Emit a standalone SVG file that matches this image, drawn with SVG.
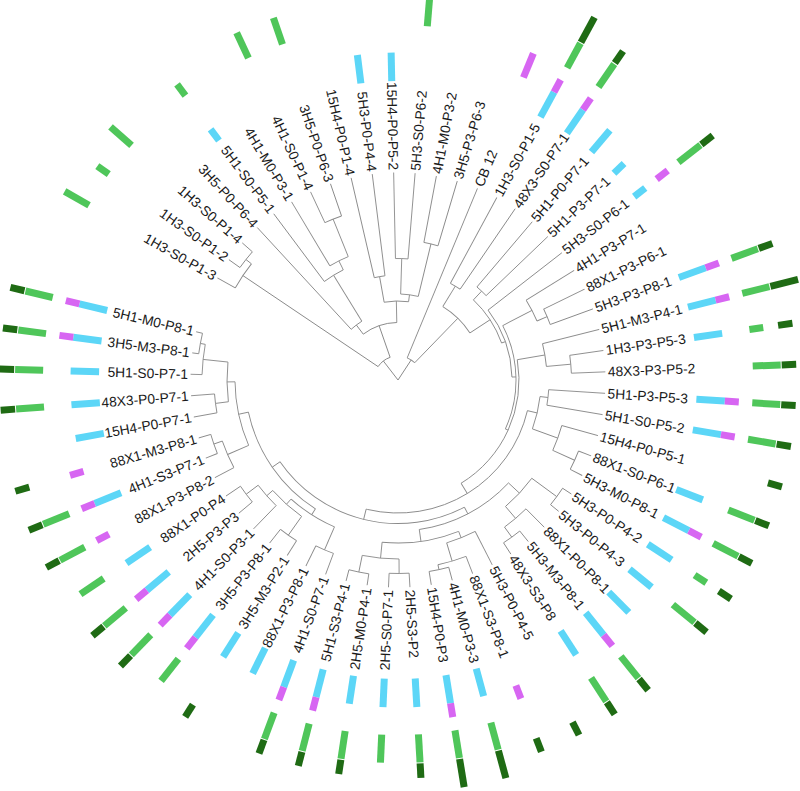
<svg xmlns="http://www.w3.org/2000/svg" width="800" height="791" viewBox="0 0 800 791">
<style>
.t{font-family:"Liberation Sans",Arial,sans-serif;font-size:13.8px;fill:#1a1a1a}
.e{text-anchor:end}
#connectors line,#connectors circle{stroke:#8a8a8a;stroke-width:0.9;fill:none}
.c{fill:#5cd6f7}.m{fill:#d766f2}.g{fill:#4fc65a}.d{fill:#1f6b14}
</style>
<rect width="800" height="791" fill="#fff"/>
<g transform="translate(398 380)">
<g id="connectors">
<circle r="24" stroke-dasharray="15.44 2000" transform="rotate(-146.05)"/>
<circle r="187" stroke-dasharray="29.05 2000" transform="rotate(-150.5)"/>
<circle r="194" stroke-dasharray="20.08 2000" transform="rotate(-144.57)"/>
<circle r="57.5" stroke-dasharray="36.08 2000" transform="rotate(-127.15)"/>
<circle r="69" stroke-dasharray="13.39 2000" transform="rotate(-132.71)"/>
<circle r="123" stroke-dasharray="22.28 2000" transform="rotate(-126.78)"/>
<circle r="133" stroke-dasharray="20.64 2000" transform="rotate(-120.85)"/>
<circle r="173.5" stroke-dasharray="17.96 2000" transform="rotate(-114.92)"/>
<circle r="79" stroke-dasharray="24.53 2000" transform="rotate(-100.1)"/>
<circle r="105" stroke-dasharray="10.87 2000" transform="rotate(-103.06)"/>
<circle r="86" stroke-dasharray="17.8 2000" transform="rotate(-88.24)"/>
<circle r="121.5" stroke-dasharray="12.57 2000" transform="rotate(-91.2)"/>
<circle r="140" stroke-dasharray="14.49 2000" transform="rotate(-79.34)"/>
<circle r="24" stroke-dasharray="9.04 2000" transform="rotate(-67.48)"/>
<circle r="86" stroke-dasharray="38.11 2000" transform="rotate(-58.59)"/>
<circle r="110" stroke-dasharray="11.38 2000" transform="rotate(-61.55)"/>
<circle r="110" stroke-dasharray="51.97 2000" transform="rotate(-46.73)"/>
<circle r="122" stroke-dasharray="12.63 2000" transform="rotate(-49.69)"/>
<circle r="114" stroke-dasharray="72.3 2000" transform="rotate(-37.83)"/>
<circle r="118" stroke-dasharray="106.93 2000" transform="rotate(-27.45)"/>
<circle r="151" stroke-dasharray="23.46 2000" transform="rotate(-31.9)"/>
<circle r="162" stroke-dasharray="16.77 2000" transform="rotate(-25.97)"/>
<circle r="121" stroke-dasharray="144.13 2000" transform="rotate(-9.66)"/>
<circle r="149" stroke-dasharray="23.12 2000" transform="rotate(-14.11)"/>
<circle r="173.5" stroke-dasharray="17.96 2000" transform="rotate(-8.18)"/>
<circle r="133" stroke-dasharray="210.14 2000" transform="rotate(13.32)"/>
<circle r="143" stroke-dasharray="33.29 2000" transform="rotate(6.65)"/>
<circle r="151" stroke-dasharray="15.63 2000" transform="rotate(3.68)"/>
<circle r="170" stroke-dasharray="26.41 2000" transform="rotate(15.54)"/>
<circle r="194" stroke-dasharray="20.08 2000" transform="rotate(21.47)"/>
<circle r="143.5" stroke-dasharray="207.47 2000" transform="rotate(62.43)"/>
<circle r="151" stroke-dasharray="102.6 2000" transform="rotate(42.97)"/>
<circle r="166" stroke-dasharray="38.65 2000" transform="rotate(36.3)"/>
<circle r="197" stroke-dasharray="20.39 2000" transform="rotate(33.33)"/>
<circle r="181.6" stroke-dasharray="28.21 2000" transform="rotate(45.19)"/>
<circle r="194" stroke-dasharray="20.08 2000" transform="rotate(51.12)"/>
<circle r="163" stroke-dasharray="78.04 2000" transform="rotate(68.17)"/>
<circle r="170" stroke-dasharray="30.8 2000" transform="rotate(62.98)"/>
<circle r="189" stroke-dasharray="29.32 2000" transform="rotate(68.91)"/>
<circle r="194" stroke-dasharray="20.08 2000" transform="rotate(74.84)"/>
<circle r="179" stroke-dasharray="37.05 2000" transform="rotate(89.67)"/>
<circle r="193.5" stroke-dasharray="20.03 2000" transform="rotate(86.7)"/>
<circle r="196" stroke-dasharray="20.29 2000" transform="rotate(98.56)"/>
<circle r="153" stroke-dasharray="120.73 2000" transform="rotate(122.66)"/>
<circle r="160" stroke-dasharray="51.75 2000" transform="rotate(113.39)"/>
<circle r="185" stroke-dasharray="19.15 2000" transform="rotate(110.42)"/>
<circle r="167" stroke-dasharray="38.88 2000" transform="rotate(125.25)"/>
<circle r="190" stroke-dasharray="19.66 2000" transform="rotate(122.28)"/>
<circle r="175" stroke-dasharray="27.18 2000" transform="rotate(134.14)"/>
<circle r="190" stroke-dasharray="19.66 2000" transform="rotate(140.07)"/>
<circle r="163" stroke-dasharray="65.37 2000" transform="rotate(156.38)"/>
<circle r="186" stroke-dasharray="28.89 2000" transform="rotate(151.93)"/>
<circle r="195" stroke-dasharray="20.18 2000" transform="rotate(157.86)"/>
<circle r="171" stroke-dasharray="39.81 2000" transform="rotate(172.69)"/>
<circle r="184" stroke-dasharray="19.04 2000" transform="rotate(169.72)"/>
<circle r="196" stroke-dasharray="30.45 2000" transform="rotate(181.58)"/>
<circle r="201" stroke-dasharray="20.8 2000" transform="rotate(187.51)"/>
<line x1="0" x2="24" transform="rotate(-127.6)"/>
<line x1="24" x2="187" transform="rotate(-146.05)"/>
<line x1="187" x2="194" transform="rotate(-141.6)"/>
<line x1="24" x2="57.5" transform="rotate(-109.18)"/>
<line x1="57.5" x2="69" transform="rotate(-127.15)"/>
<line x1="69" x2="123" transform="rotate(-121.59)"/>
<line x1="123" x2="133" transform="rotate(-116.4)"/>
<line x1="133" x2="173.5" transform="rotate(-111.96)"/>
<line x1="57.5" x2="79" transform="rotate(-91.2)"/>
<line x1="79" x2="105" transform="rotate(-100.1)"/>
<line x1="79" x2="86" transform="rotate(-82.31)"/>
<line x1="86" x2="121.5" transform="rotate(-88.24)"/>
<line x1="86" x2="140" transform="rotate(-76.38)"/>
<line x1="0" x2="24" transform="rotate(-56.69)"/>
<line x1="24" x2="86" transform="rotate(-45.9)"/>
<line x1="86" x2="110" transform="rotate(-58.59)"/>
<line x1="86" x2="110" transform="rotate(-33.2)"/>
<line x1="110" x2="122" transform="rotate(-46.73)"/>
<line x1="110" x2="114" transform="rotate(-19.66)"/>
<line x1="114" x2="118" transform="rotate(-1.49)"/>
<line x1="118" x2="151" transform="rotate(-27.45)"/>
<line x1="151" x2="162" transform="rotate(-23)"/>
<line x1="118" x2="121" transform="rotate(24.47)"/>
<line x1="121" x2="149" transform="rotate(-9.66)"/>
<line x1="149" x2="173.5" transform="rotate(-5.22)"/>
<line x1="121" x2="133" transform="rotate(58.59)"/>
<line x1="133" x2="143" transform="rotate(13.32)"/>
<line x1="143" x2="151" transform="rotate(6.65)"/>
<line x1="143" x2="170" transform="rotate(19.99)"/>
<line x1="170" x2="194" transform="rotate(24.44)"/>
<line x1="133" x2="143.5" transform="rotate(103.85)"/>
<line x1="143.5" x2="151" transform="rotate(62.43)"/>
<line x1="151" x2="166" transform="rotate(42.97)"/>
<line x1="166" x2="197" transform="rotate(36.3)"/>
<line x1="166" x2="181.6" transform="rotate(49.64)"/>
<line x1="181.6" x2="194" transform="rotate(54.09)"/>
<line x1="151" x2="163" transform="rotate(81.9)"/>
<line x1="163" x2="170" transform="rotate(68.17)"/>
<line x1="170" x2="189" transform="rotate(73.36)"/>
<line x1="189" x2="194" transform="rotate(77.8)"/>
<line x1="163" x2="179" transform="rotate(95.6)"/>
<line x1="179" x2="193.5" transform="rotate(89.67)"/>
<line x1="179" x2="196" transform="rotate(101.53)"/>
<line x1="143.5" x2="153" transform="rotate(145.27)"/>
<line x1="153" x2="160" transform="rotate(122.66)"/>
<line x1="160" x2="185" transform="rotate(113.39)"/>
<line x1="160" x2="167" transform="rotate(131.92)"/>
<line x1="167" x2="190" transform="rotate(125.25)"/>
<line x1="167" x2="175" transform="rotate(138.59)"/>
<line x1="175" x2="190" transform="rotate(143.04)"/>
<line x1="153" x2="163" transform="rotate(167.87)"/>
<line x1="163" x2="186" transform="rotate(156.38)"/>
<line x1="186" x2="195" transform="rotate(160.83)"/>
<line x1="163" x2="171" transform="rotate(179.36)"/>
<line x1="171" x2="184" transform="rotate(172.69)"/>
<line x1="171" x2="196" transform="rotate(186.03)"/>
<line x1="196" x2="201" transform="rotate(190.48)"/>
<line x1="187" x2="207.5" transform="rotate(-150.5)"/>
<line x1="194" x2="207.5" transform="rotate(-144.57)"/>
<line x1="194" x2="207.5" transform="rotate(-138.64)"/>
<line x1="69" x2="207.5" transform="rotate(-132.71)"/>
<line x1="123" x2="207.5" transform="rotate(-126.78)"/>
<line x1="133" x2="207.5" transform="rotate(-120.85)"/>
<line x1="173.5" x2="207.5" transform="rotate(-114.92)"/>
<line x1="173.5" x2="207.5" transform="rotate(-108.99)"/>
<line x1="105" x2="207.5" transform="rotate(-103.06)"/>
<line x1="105" x2="207.5" transform="rotate(-97.13)"/>
<line x1="121.5" x2="207.5" transform="rotate(-91.2)"/>
<line x1="121.5" x2="207.5" transform="rotate(-85.27)"/>
<line x1="140" x2="207.5" transform="rotate(-79.34)"/>
<line x1="140" x2="207.5" transform="rotate(-73.41)"/>
<line x1="24" x2="207.5" transform="rotate(-67.48)"/>
<line x1="110" x2="207.5" transform="rotate(-61.55)"/>
<line x1="110" x2="207.5" transform="rotate(-55.62)"/>
<line x1="122" x2="207.5" transform="rotate(-49.69)"/>
<line x1="122" x2="207.5" transform="rotate(-43.76)"/>
<line x1="114" x2="207.5" transform="rotate(-37.83)"/>
<line x1="151" x2="207.5" transform="rotate(-31.9)"/>
<line x1="162" x2="207.5" transform="rotate(-25.97)"/>
<line x1="162" x2="207.5" transform="rotate(-20.04)"/>
<line x1="149" x2="207.5" transform="rotate(-14.11)"/>
<line x1="173.5" x2="207.5" transform="rotate(-8.18)"/>
<line x1="173.5" x2="207.5" transform="rotate(-2.25)"/>
<line x1="151" x2="207.5" transform="rotate(3.68)"/>
<line x1="151" x2="207.5" transform="rotate(9.61)"/>
<line x1="170" x2="207.5" transform="rotate(15.54)"/>
<line x1="194" x2="207.5" transform="rotate(21.47)"/>
<line x1="194" x2="207.5" transform="rotate(27.4)"/>
<line x1="197" x2="207.5" transform="rotate(33.33)"/>
<line x1="197" x2="207.5" transform="rotate(39.26)"/>
<line x1="181.6" x2="207.5" transform="rotate(45.19)"/>
<line x1="194" x2="207.5" transform="rotate(51.12)"/>
<line x1="194" x2="207.5" transform="rotate(57.05)"/>
<line x1="170" x2="207.5" transform="rotate(62.98)"/>
<line x1="189" x2="207.5" transform="rotate(68.91)"/>
<line x1="194" x2="207.5" transform="rotate(74.84)"/>
<line x1="194" x2="207.5" transform="rotate(80.77)"/>
<line x1="193.5" x2="207.5" transform="rotate(86.7)"/>
<line x1="193.5" x2="207.5" transform="rotate(92.63)"/>
<line x1="196" x2="207.5" transform="rotate(98.56)"/>
<line x1="196" x2="207.5" transform="rotate(104.49)"/>
<line x1="185" x2="207.5" transform="rotate(110.42)"/>
<line x1="185" x2="207.5" transform="rotate(116.35)"/>
<line x1="190" x2="207.5" transform="rotate(122.28)"/>
<line x1="190" x2="207.5" transform="rotate(128.21)"/>
<line x1="175" x2="207.5" transform="rotate(134.14)"/>
<line x1="190" x2="207.5" transform="rotate(140.07)"/>
<line x1="190" x2="207.5" transform="rotate(146)"/>
<line x1="186" x2="207.5" transform="rotate(151.93)"/>
<line x1="195" x2="207.5" transform="rotate(157.86)"/>
<line x1="195" x2="207.5" transform="rotate(163.79)"/>
<line x1="184" x2="207.5" transform="rotate(169.72)"/>
<line x1="184" x2="207.5" transform="rotate(175.65)"/>
<line x1="196" x2="207.5" transform="rotate(181.58)"/>
<line x1="201" x2="207.5" transform="rotate(187.51)"/>
<line x1="201" x2="207.5" transform="rotate(193.44)"/>
</g>
<g id="leaf-1" transform="rotate(-150.5)"><text class="t e" x="-210" dy=".35em" transform="rotate(180)">1H3-S0-P1-3</text><rect class="g" x="355" y="-3.5" width="28" height="7"/></g>
<g id="leaf-2" transform="rotate(-144.57)"><text class="t e" x="-210" dy=".35em" transform="rotate(180)">1H3-S0-P1-2</text><rect class="g" x="355" y="-3.5" width="14" height="7"/></g>
<g id="leaf-3" transform="rotate(-138.64)"><text class="t e" x="-210" dy=".35em" transform="rotate(180)">1H3-S0-P1-4</text><rect class="g" x="355" y="-3.5" width="28" height="7"/></g>
<g id="leaf-4" transform="rotate(-132.71)"><text class="t e" x="-210" dy=".35em" transform="rotate(180)">3H5-P0-P6-4</text></g>
<g id="leaf-5" transform="rotate(-126.78)"><text class="t e" x="-210" dy=".35em" transform="rotate(180)">5H1-S0-P5-1</text><rect class="c" x="299" y="-3.5" width="14" height="7"/><rect class="g" x="355" y="-3.5" width="14" height="7"/></g>
<g id="leaf-6" transform="rotate(-120.85)"><text class="t e" x="-210" dy=".35em" transform="rotate(180)">4H1-M0-P3-1</text></g>
<g id="leaf-7" transform="rotate(-114.92)"><text class="t e" x="-210" dy=".35em" transform="rotate(180)">4H1-S0-P1-4</text><rect class="g" x="355" y="-3.5" width="28" height="7"/></g>
<g id="leaf-8" transform="rotate(-108.99)"><text class="t e" x="-210" dy=".35em" transform="rotate(180)">3H5-P0-P6-3</text><rect class="g" x="355" y="-3.5" width="28" height="7"/></g>
<g id="leaf-9" transform="rotate(-103.06)"><text class="t e" x="-210" dy=".35em" transform="rotate(180)">15H4-P0-P1-4</text></g>
<g id="leaf-10" transform="rotate(-97.13)"><text class="t e" x="-210" dy=".35em" transform="rotate(180)">5H3-P0-P4-4</text><rect class="c" x="299" y="-3.5" width="28.5" height="7"/></g>
<g id="leaf-11" transform="rotate(-91.2)"><text class="t e" x="-210" dy=".35em" transform="rotate(180)">15H4-P0-P5-2</text><rect class="c" x="299" y="-3.5" width="28.5" height="7"/></g>
<g id="leaf-12" transform="rotate(-85.27)"><text class="t" x="210" dy=".35em">5H3-S0-P6-2</text><rect class="g" x="355" y="-3.5" width="28" height="7"/></g>
<g id="leaf-13" transform="rotate(-79.34)"><text class="t" x="210" dy=".35em">4H1-M0-P3-2</text></g>
<g id="leaf-14" transform="rotate(-73.41)"><text class="t" x="210" dy=".35em">3H5-P3-P6-3</text></g>
<g id="leaf-15" transform="rotate(-67.48)"><text class="t" x="210" dy=".35em">CB 12</text><rect class="m" x="327.5" y="-3.5" width="26" height="7"/></g>
<g id="leaf-16" transform="rotate(-61.55)"><text class="t" x="210" dy=".35em">1H3-S0-P1-5</text><rect class="c" x="299" y="-3.5" width="28.5" height="7"/><rect class="m" x="327.5" y="-3.5" width="14" height="7"/><rect class="g" x="355" y="-3.5" width="28" height="7"/><rect class="d" x="384" y="-3.5" width="28.5" height="7"/></g>
<g id="leaf-17" transform="rotate(-55.62)"><text class="t" x="210" dy=".35em">48X3-S0-P7-1</text><rect class="c" x="299" y="-3.5" width="28.5" height="7"/><rect class="m" x="327.5" y="-3.5" width="14" height="7"/><rect class="g" x="355" y="-3.5" width="28" height="7"/><rect class="d" x="384" y="-3.5" width="14.5" height="7"/></g>
<g id="leaf-18" transform="rotate(-49.69)"><text class="t" x="210" dy=".35em">5H1-P0-P7-1</text><rect class="c" x="299" y="-3.5" width="28.5" height="7"/></g>
<g id="leaf-19" transform="rotate(-43.76)"><text class="t" x="210" dy=".35em">5H1-P3-P7-1</text><rect class="c" x="299" y="-3.5" width="14" height="7"/></g>
<g id="leaf-20" transform="rotate(-37.83)"><text class="t" x="210" dy=".35em">5H3-S0-P6-1</text><rect class="c" x="299" y="-3.5" width="14" height="7"/><rect class="m" x="327.5" y="-3.5" width="14" height="7"/><rect class="g" x="355" y="-3.5" width="28" height="7"/><rect class="d" x="384" y="-3.5" width="14.5" height="7"/></g>
<g id="leaf-21" transform="rotate(-31.9)"><text class="t" x="210" dy=".35em">4H1-P3-P7-1</text></g>
<g id="leaf-22" transform="rotate(-25.97)"><text class="t" x="210" dy=".35em">88X1-P3-P6-1</text></g>
<g id="leaf-23" transform="rotate(-20.04)"><text class="t" x="210" dy=".35em">5H3-P3-P8-1</text><rect class="c" x="299" y="-3.5" width="28.5" height="7"/><rect class="m" x="327.5" y="-3.5" width="14" height="7"/><rect class="g" x="355" y="-3.5" width="28" height="7"/><rect class="d" x="384" y="-3.5" width="14.5" height="7"/></g>
<g id="leaf-24" transform="rotate(-14.11)"><text class="t" x="210" dy=".35em">5H1-M3-P4-1</text><rect class="c" x="299" y="-3.5" width="28.5" height="7"/><rect class="m" x="327.5" y="-3.5" width="14" height="7"/><rect class="g" x="355" y="-3.5" width="28" height="7"/><rect class="d" x="384" y="-3.5" width="28.5" height="7"/></g>
<g id="leaf-25" transform="rotate(-8.18)"><text class="t" x="210" dy=".35em">1H3-P3-P5-3</text><rect class="c" x="299" y="-3.5" width="28.5" height="7"/><rect class="g" x="355" y="-3.5" width="14" height="7"/><rect class="d" x="384" y="-3.5" width="14.5" height="7"/></g>
<g id="leaf-26" transform="rotate(-2.25)"><text class="t" x="210" dy=".35em">48X3-P3-P5-2</text><rect class="g" x="355" y="-3.5" width="28" height="7"/><rect class="d" x="384" y="-3.5" width="14.5" height="7"/></g>
<g id="leaf-27" transform="rotate(3.68)"><text class="t" x="210" dy=".35em">5H1-P3-P5-3</text><rect class="c" x="299" y="-3.5" width="28.5" height="7"/><rect class="m" x="327.5" y="-3.5" width="14" height="7"/><rect class="g" x="355" y="-3.5" width="28" height="7"/><rect class="d" x="384" y="-3.5" width="14.5" height="7"/></g>
<g id="leaf-28" transform="rotate(9.61)"><text class="t" x="210" dy=".35em">5H1-S0-P5-2</text><rect class="c" x="299" y="-3.5" width="28.5" height="7"/><rect class="m" x="327.5" y="-3.5" width="14" height="7"/><rect class="g" x="355" y="-3.5" width="28" height="7"/><rect class="d" x="384" y="-3.5" width="14.5" height="7"/></g>
<g id="leaf-29" transform="rotate(15.54)"><text class="t" x="210" dy=".35em">15H4-P0-P5-1</text><rect class="d" x="384" y="-3.5" width="14.5" height="7"/></g>
<g id="leaf-30" transform="rotate(21.47)"><text class="t" x="210" dy=".35em">88X1-S0-P6-1</text><rect class="c" x="299" y="-3.5" width="28.5" height="7"/><rect class="g" x="355" y="-3.5" width="28" height="7"/><rect class="d" x="384" y="-3.5" width="14.5" height="7"/></g>
<g id="leaf-31" transform="rotate(27.4)"><text class="t" x="210" dy=".35em">5H3-M0-P8-1</text><rect class="c" x="299" y="-3.5" width="28.5" height="7"/><rect class="m" x="327.5" y="-3.5" width="14" height="7"/><rect class="g" x="355" y="-3.5" width="28" height="7"/><rect class="d" x="384" y="-3.5" width="14.5" height="7"/></g>
<g id="leaf-32" transform="rotate(33.33)"><text class="t" x="210" dy=".35em">5H3-P0-P4-2</text><rect class="c" x="299" y="-3.5" width="28.5" height="7"/><rect class="g" x="355" y="-3.5" width="14" height="7"/><rect class="d" x="384" y="-3.5" width="14.5" height="7"/></g>
<g id="leaf-33" transform="rotate(39.26)"><text class="t" x="210" dy=".35em">5H3-P0-P4-3</text><rect class="c" x="299" y="-3.5" width="28.5" height="7"/><rect class="g" x="355" y="-3.5" width="28" height="7"/><rect class="d" x="384" y="-3.5" width="14.5" height="7"/></g>
<g id="leaf-34" transform="rotate(45.19)"><text class="t" x="210" dy=".35em">88X1-P0-P8-1</text><rect class="c" x="299" y="-3.5" width="28.5" height="7"/></g>
<g id="leaf-35" transform="rotate(51.12)"><text class="t" x="210" dy=".35em">5H3-M3-P8-1</text><rect class="c" x="299" y="-3.5" width="28.5" height="7"/><rect class="m" x="327.5" y="-3.5" width="14" height="7"/><rect class="g" x="355" y="-3.5" width="28" height="7"/><rect class="d" x="384" y="-3.5" width="14.5" height="7"/></g>
<g id="leaf-36" transform="rotate(57.05)"><text class="t" x="210" dy=".35em">48X3-S3-P8</text><rect class="c" x="299" y="-3.5" width="28.5" height="7"/><rect class="g" x="355" y="-3.5" width="28" height="7"/><rect class="d" x="384" y="-3.5" width="14.5" height="7"/></g>
<g id="leaf-37" transform="rotate(62.98)"><text class="t" x="210" dy=".35em">5H3-P0-P4-5</text><rect class="d" x="384" y="-3.5" width="14.5" height="7"/></g>
<g id="leaf-38" transform="rotate(68.91)"><text class="t" x="210" dy=".35em">88X1-S3-P8-1</text><rect class="m" x="327.5" y="-3.5" width="14" height="7"/><rect class="d" x="384" y="-3.5" width="14.5" height="7"/></g>
<g id="leaf-39" transform="rotate(74.84)"><text class="t" x="210" dy=".35em">4H1-M0-P3-3</text><rect class="c" x="299" y="-3.5" width="28.5" height="7"/><rect class="g" x="355" y="-3.5" width="28" height="7"/><rect class="d" x="384" y="-3.5" width="28.5" height="7"/></g>
<g id="leaf-40" transform="rotate(80.77)"><text class="t" x="210" dy=".35em">15H4-P0-P3</text><rect class="c" x="299" y="-3.5" width="28.5" height="7"/><rect class="m" x="327.5" y="-3.5" width="14" height="7"/><rect class="g" x="355" y="-3.5" width="28" height="7"/><rect class="d" x="384" y="-3.5" width="28.5" height="7"/></g>
<g id="leaf-41" transform="rotate(86.7)"><text class="t" x="210" dy=".35em">2H5-S3-P2</text><rect class="c" x="299" y="-3.5" width="28.5" height="7"/><rect class="g" x="355" y="-3.5" width="28" height="7"/><rect class="d" x="384" y="-3.5" width="14.5" height="7"/></g>
<g id="leaf-42" transform="rotate(92.63)"><text class="t e" x="-210" dy=".35em" transform="rotate(180)">2H5-S0-P7-1</text><rect class="c" x="299" y="-3.5" width="28.5" height="7"/><rect class="g" x="355" y="-3.5" width="28" height="7"/></g>
<g id="leaf-43" transform="rotate(98.56)"><text class="t e" x="-210" dy=".35em" transform="rotate(180)">2H5-M0-P4-1</text><rect class="c" x="299" y="-3.5" width="28.5" height="7"/><rect class="g" x="355" y="-3.5" width="28" height="7"/><rect class="d" x="384" y="-3.5" width="14.5" height="7"/></g>
<g id="leaf-44" transform="rotate(104.49)"><text class="t e" x="-210" dy=".35em" transform="rotate(180)">5H1-S3-P4-1</text><rect class="c" x="299" y="-3.5" width="28.5" height="7"/><rect class="m" x="327.5" y="-3.5" width="14" height="7"/><rect class="g" x="355" y="-3.5" width="28" height="7"/><rect class="d" x="384" y="-3.5" width="14.5" height="7"/></g>
<g id="leaf-45" transform="rotate(110.42)"><text class="t e" x="-210" dy=".35em" transform="rotate(180)">4H1-S0-P7-1</text><rect class="c" x="299" y="-3.5" width="28.5" height="7"/><rect class="m" x="327.5" y="-3.5" width="14" height="7"/><rect class="g" x="355" y="-3.5" width="28" height="7"/><rect class="d" x="384" y="-3.5" width="14.5" height="7"/></g>
<g id="leaf-46" transform="rotate(116.35)"><text class="t e" x="-210" dy=".35em" transform="rotate(180)">88X1-P3-P8-1</text><rect class="c" x="299" y="-3.5" width="28.5" height="7"/></g>
<g id="leaf-47" transform="rotate(122.28)"><text class="t e" x="-210" dy=".35em" transform="rotate(180)">3H5-M3-P2-1</text><rect class="c" x="299" y="-3.5" width="28.5" height="7"/><rect class="d" x="384" y="-3.5" width="14.5" height="7"/></g>
<g id="leaf-48" transform="rotate(128.21)"><text class="t e" x="-210" dy=".35em" transform="rotate(180)">3H5-P3-P8-1</text><rect class="c" x="299" y="-3.5" width="28.5" height="7"/><rect class="m" x="327.5" y="-3.5" width="14" height="7"/><rect class="g" x="355" y="-3.5" width="28" height="7"/></g>
<g id="leaf-49" transform="rotate(134.14)"><text class="t e" x="-210" dy=".35em" transform="rotate(180)">4H1-S0-P3-1</text><rect class="c" x="299" y="-3.5" width="28.5" height="7"/><rect class="m" x="327.5" y="-3.5" width="14" height="7"/><rect class="g" x="355" y="-3.5" width="28" height="7"/><rect class="d" x="384" y="-3.5" width="14.5" height="7"/></g>
<g id="leaf-50" transform="rotate(140.07)"><text class="t e" x="-210" dy=".35em" transform="rotate(180)">2H5-P3-P3</text><rect class="c" x="299" y="-3.5" width="28.5" height="7"/><rect class="m" x="327.5" y="-3.5" width="14" height="7"/><rect class="g" x="355" y="-3.5" width="28" height="7"/><rect class="d" x="384" y="-3.5" width="14.5" height="7"/></g>
<g id="leaf-51" transform="rotate(146)"><text class="t e" x="-210" dy=".35em" transform="rotate(180)">88X1-P0-P4</text><rect class="c" x="299" y="-3.5" width="28.5" height="7"/><rect class="g" x="355" y="-3.5" width="28" height="7"/></g>
<g id="leaf-52" transform="rotate(151.93)"><text class="t e" x="-210" dy=".35em" transform="rotate(180)">88X1-P3-P8-2</text><rect class="m" x="327.5" y="-3.5" width="14" height="7"/><rect class="g" x="355" y="-3.5" width="28" height="7"/><rect class="d" x="384" y="-3.5" width="14.5" height="7"/></g>
<g id="leaf-53" transform="rotate(157.86)"><text class="t e" x="-210" dy=".35em" transform="rotate(180)">4H1-S3-P7-1</text><rect class="c" x="299" y="-3.5" width="28.5" height="7"/><rect class="m" x="327.5" y="-3.5" width="14" height="7"/><rect class="g" x="355" y="-3.5" width="28" height="7"/><rect class="d" x="384" y="-3.5" width="14.5" height="7"/></g>
<g id="leaf-54" transform="rotate(163.79)"><text class="t e" x="-210" dy=".35em" transform="rotate(180)">88X1-M3-P8-1</text><rect class="m" x="327.5" y="-3.5" width="14" height="7"/><rect class="d" x="384" y="-3.5" width="14.5" height="7"/></g>
<g id="leaf-55" transform="rotate(169.72)"><text class="t e" x="-210" dy=".35em" transform="rotate(180)">15H4-P0-P7-1</text><rect class="c" x="299" y="-3.5" width="28.5" height="7"/></g>
<g id="leaf-56" transform="rotate(175.65)"><text class="t e" x="-210" dy=".35em" transform="rotate(180)">48X3-P0-P7-1</text><rect class="c" x="299" y="-3.5" width="28.5" height="7"/><rect class="g" x="355" y="-3.5" width="28" height="7"/><rect class="d" x="384" y="-3.5" width="14.5" height="7"/></g>
<g id="leaf-57" transform="rotate(181.58)"><text class="t e" x="-210" dy=".35em" transform="rotate(180)">5H1-S0-P7-1</text><rect class="c" x="299" y="-3.5" width="28.5" height="7"/><rect class="g" x="355" y="-3.5" width="28" height="7"/><rect class="d" x="384" y="-3.5" width="14.5" height="7"/></g>
<g id="leaf-58" transform="rotate(187.51)"><text class="t e" x="-210" dy=".35em" transform="rotate(180)">3H5-M3-P8-1</text><rect class="c" x="299" y="-3.5" width="28.5" height="7"/><rect class="m" x="327.5" y="-3.5" width="14" height="7"/><rect class="g" x="355" y="-3.5" width="28" height="7"/><rect class="d" x="384" y="-3.5" width="14.5" height="7"/></g>
<g id="leaf-59" transform="rotate(193.44)"><text class="t e" x="-210" dy=".35em" transform="rotate(180)">5H1-M0-P8-1</text><rect class="c" x="299" y="-3.5" width="28.5" height="7"/><rect class="m" x="327.5" y="-3.5" width="14" height="7"/><rect class="g" x="355" y="-3.5" width="28" height="7"/><rect class="d" x="384" y="-3.5" width="14.5" height="7"/></g>
</g>
</svg>
